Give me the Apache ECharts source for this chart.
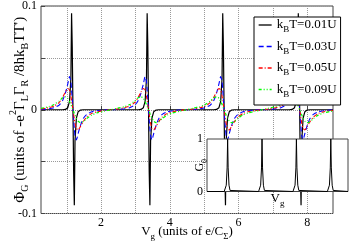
<!DOCTYPE html>
<html><head><meta charset="utf-8">
<script src="https://cdn.jsdelivr.net/npm/echarts@6/dist/echarts.min.js"></script>
<style>html,body{margin:0;padding:0;background:#fff}#c{width:349px;height:249px}</style>
</head><body><div id="c"></div>
<script>
// gate voltage samples (units of e/C_Sigma)
const vg = [
  0.25,0.48,0.63,0.78,0.88,0.96,1.03,1.08,1.12,1.14,1.16,1.18,1.20,1.22,1.24,1.28,1.33,1.40,1.48,1.58,1.73,1.88,2.08,2.28,
  2.48,2.68,2.83,2.98,3.08,3.16,3.23,3.28,3.32,3.34,3.36,3.38,3.40,3.42,3.44,3.48,3.53,3.60,3.68,3.78,3.93,4.08,4.28,4.48,
  4.68,4.88,5.03,5.18,5.28,5.36,5.43,5.48,5.52,5.54,5.56,5.58,5.60,5.62,5.64,5.68,5.73,5.80,5.88,5.98,6.13,6.28,6.48,6.68,
  6.88,7.08,7.23,7.38,7.48,7.56,7.63,7.68,7.72,7.74,7.76,7.78,7.80,7.82,7.84,7.88,7.93,8.00,8.08,8.18,8.33,8.48,8.68,8.75
];
const phiT001 = [
  0,0,0,0,0,0.0003,0.002,0.008,0.03,0.093,0.06,0,-0.06,-0.092,-0.03,-0.008,-0.002,-0.0003,0,0,0,0,0,0,
  0,0,0,0,0,0.0003,0.002,0.008,0.03,0.093,0.06,0,-0.06,-0.092,-0.03,-0.008,-0.002,-0.0003,0,0,0,0,0,0,
  0,0,0,0,0,0.0003,0.002,0.008,0.03,0.093,0.06,0,-0.06,-0.092,-0.03,-0.008,-0.002,-0.0003,0,0,0,0,0,0,
  0,0,0,0,0,0.0003,0.002,0.008,0.03,0.093,0.06,0,-0.06,-0.092,-0.03,-0.008,-0.002,-0.0003,0,0,0,0,0,0
];
const phiT003 = [
  0.0003,0.001,0.002,0.0045,0.009,0.016,0.025,0.032,0.027,0.019,0.01,0,-0.01,-0.018,-0.025,-0.029,-0.023,-0.015,-0.0085,-0.0045,-0.002,-0.001,-0.0003,0,
  0.0003,0.001,0.002,0.0045,0.009,0.016,0.025,0.032,0.027,0.019,0.01,0,-0.01,-0.018,-0.025,-0.029,-0.023,-0.015,-0.0085,-0.0045,-0.002,-0.001,-0.0003,0,
  0.0003,0.001,0.002,0.0045,0.009,0.016,0.025,0.032,0.027,0.019,0.01,0,-0.01,-0.018,-0.025,-0.029,-0.023,-0.015,-0.0085,-0.0045,-0.002,-0.001,-0.0003,0,
  0.0003,0.001,0.002,0.0045,0.009,0.016,0.025,0.032,0.027,0.019,0.01,0,-0.01,-0.018,-0.025,-0.029,-0.023,-0.015,-0.0085,-0.0045,-0.002,-0.001,-0.0003,-0.0002
];
const phiT005 = [
  0.0007,0.002,0.0035,0.007,0.012,0.017,0.0205,0.019,0.013,0.009,0.0045,0,-0.0045,-0.009,-0.013,-0.018,-0.0195,-0.016,-0.0115,-0.007,-0.0035,-0.002,-0.0008,0,
  0.0008,0.002,0.0035,0.007,0.012,0.017,0.0205,0.019,0.013,0.009,0.0045,0,-0.0045,-0.009,-0.013,-0.018,-0.0195,-0.016,-0.0115,-0.007,-0.0035,-0.002,-0.0008,0,
  0.0008,0.002,0.0035,0.007,0.012,0.017,0.0205,0.019,0.013,0.009,0.0045,0,-0.0045,-0.009,-0.013,-0.018,-0.0195,-0.016,-0.0115,-0.007,-0.0035,-0.002,-0.0008,0,
  0.0008,0.002,0.0035,0.007,0.012,0.017,0.0205,0.019,0.013,0.009,0.0045,0,-0.0045,-0.009,-0.013,-0.018,-0.0195,-0.016,-0.0115,-0.007,-0.0035,-0.002,-0.0008,-0.0006
];
const phiT009 = [
  0.0014,0.003,0.005,0.0085,0.0115,0.0125,0.011,0.008,0.005,0.0034,0.0017,0,-0.0017,-0.0034,-0.005,-0.008,-0.011,-0.0125,-0.0115,-0.0085,-0.005,-0.003,-0.0015,0,
  0.0015,0.003,0.005,0.0085,0.0115,0.0125,0.011,0.008,0.005,0.0034,0.0017,0,-0.0017,-0.0034,-0.005,-0.008,-0.011,-0.0125,-0.0115,-0.0085,-0.005,-0.003,-0.0015,0,
  0.0015,0.003,0.005,0.0085,0.0115,0.0125,0.011,0.008,0.005,0.0034,0.0017,0,-0.0017,-0.0034,-0.005,-0.008,-0.011,-0.0125,-0.0115,-0.0085,-0.005,-0.003,-0.0015,0,
  0.0015,0.003,0.005,0.0085,0.0115,0.0125,0.011,0.008,0.005,0.0034,0.0017,0,-0.0017,-0.0034,-0.005,-0.008,-0.011,-0.0125,-0.0115,-0.0085,-0.005,-0.003,-0.0015,-0.0012
];
const seriesNames = ['T=0.01U','T=0.03U','T=0.05U','T=0.09U'];
// inset: linear conductance G0 vs Vg
const insetVg = [0,
  0.5,0.53,0.56,0.585,0.6,0.615,0.64,0.67,0.7,
  1.5,1.53,1.56,1.585,1.6,1.615,1.64,1.67,1.7,
  2.5,2.53,2.56,2.585,2.6,2.615,2.64,2.67,2.7,
  3.5,3.53,3.56,3.585,3.6,3.615,3.64,3.67,3.7,
  4.1];
const insetG0 = [0,
  0,0.02,0.12,0.45,1,0.45,0.12,0.02,0,
  0,0.02,0.12,0.45,1,0.45,0.12,0.02,0,
  0,0.02,0.12,0.45,1,0.45,0.12,0.02,0,
  0,0.02,0.12,0.45,1,0.45,0.12,0.02,0,
  0];
const xTickValues = [1,2,3,4,5,6,7,8];
const xTickLabels = [2,4,6,8];
const yTickLabels = [-0.1,0,0.1];
const yTickText = ['-0.1','0','0.1'];
const insetYTickLabels = [0,1];

const FF = 'Liberation Serif';
function rich(fs, sf){
  return {
    n:{fontFamily:FF,fontSize:fs,lineHeight:14,color:'#000'},
    s:{fontFamily:FF,fontSize:sf,height:8,lineHeight:14,verticalAlign:'top',padding:[8,0,0,0],color:'#000'},
    p:{fontFamily:FF,fontSize:sf,height:8,lineHeight:14,verticalAlign:'top',padding:[-4,0,0,0],color:'#000'}
  };
}
const chart = echarts.init(document.getElementById('c'), null, {renderer:'canvas'});
const colors = ['#000000','#0000ff','#ff0000','#00ff00'];
const dashes = ['solid',[5,3],[4,2,1,2],[3,2,1,2,1,2]];
const widths = [1.2,1.1,1.1,1.2];
const phis = [phiT001,phiT003,phiT005,phiT009];
const mainSeries = phis.map((arr,k)=>({
  name: seriesNames[k], type:'line', xAxisIndex:0, yAxisIndex:0,
  data: vg.map((x,i)=>[x,arr[i]]), symbol:'none', showSymbol:false,
  smooth: k===0 ? false : 0.2, color: colors[k],
  lineStyle:{color:colors[k], width:widths[k], type:dashes[k]}, z:2+k
}));
const option = {
  animation:false,
  textStyle:{fontFamily:FF},
  grid:[
    {left:36, top:5.5, width:297, height:208, show:true, borderColor:'#444', borderWidth:1, backgroundColor:'transparent'},
    {left:207, top:139, width:141, height:52.5, show:true, borderColor:'#444', borderWidth:1, backgroundColor:'#fff', zlevel:1, z:10}
  ],
  legend:{
    data: seriesNames, left:254, top:17, orient:'vertical', itemWidth:13, itemHeight:14, itemGap:5,
    padding:[1,4,6,4], backgroundColor:'#fff', borderColor:'#000', borderWidth:1, borderRadius:0,
    selectedMode:false, z:20,
    itemStyle:{opacity:0},
    lineStyle:{width:1.3},
    formatter: name => '{n|k}{s|B}{n|' + name + '}',
    textStyle:{rich: rich(13,9)}
  },
  xAxis:[
    {type:'value', gridIndex:0, min:0.25, max:8.75,
     axisLine:{show:false},
     axisTick:{show:true, inside:true, length:4, customValues:xTickValues, lineStyle:{color:'#444'}},
     axisLabel:{customValues:xTickLabels, margin:3, fontFamily:FF, fontSize:12, color:'#000'},
     splitLine:{show:true, lineStyle:{type:'dotted', color:'#999', width:1}},
     name:'{n|V}{s|g}{n| (units of e/C}{s|Σ}{n|)}', nameLocation:'middle', nameGap:11.5, nameMoveOverlap:false,
     nameTextStyle:{rich: rich(13,9)}},
    {type:'value', gridIndex:1, min:0, max:4.1, zlevel:1, z:11,
     axisLine:{show:false}, axisTick:{show:false}, axisLabel:{show:false}, splitLine:{show:false},
     name:'{n|V}{s|g}', nameLocation:'middle', nameGap:0, nameMoveOverlap:false, nameTextStyle:{rich: rich(13,9)}}
  ],
  yAxis:[
    {type:'value', gridIndex:0, min:-0.1, max:0.1, interval:0.05,
     axisLine:{show:false},
     axisTick:{show:true, inside:true, length:4, lineStyle:{color:'#444'}},
     axisLabel:{customValues:yTickLabels, margin:4, fontFamily:FF, fontSize:12, color:'#000',
       formatter: v => yTickText[yTickLabels.findIndex(t => Math.abs(t - v) < 1e-9)]},
     splitLine:{show:true, lineStyle:{type:'dotted', color:'#999', width:1}},
     name:'{n|Φ}{s|G}{n| (units of -e}{p|2}{n|Γ}{s|L}{n|Γ}{s|R}{n| /8hk}{s|B}{n|TT\')}',
     nameLocation:'middle', nameRotate:90, nameGap:14, nameMoveOverlap:false, nameTextStyle:{rich: rich(15,10)}},
    {type:'value', gridIndex:1, min:0, max:1, interval:1, zlevel:1, z:11,
     axisLine:{show:false}, axisTick:{show:false}, splitLine:{show:false},
     axisLabel:{customValues:insetYTickLabels, margin:4, fontFamily:FF, fontSize:12, color:'#000'},
     name:'{n|G}{s|0}', nameLocation:'middle', nameRotate:90, nameGap:0, nameMoveOverlap:false, nameTextStyle:{rich: rich(12,8)}}
  ],
  series: mainSeries.concat([{
    name:'G0', type:'line', xAxisIndex:1, yAxisIndex:1, zlevel:1, z:12,
    data: insetVg.map((x,i)=>[x, insetG0[i]]), symbol:'none', showSymbol:false,
    lineStyle:{color:'#000', width:1}, color:'#000'
  }])
};
chart.setOption(option);
</script>
</body></html>
